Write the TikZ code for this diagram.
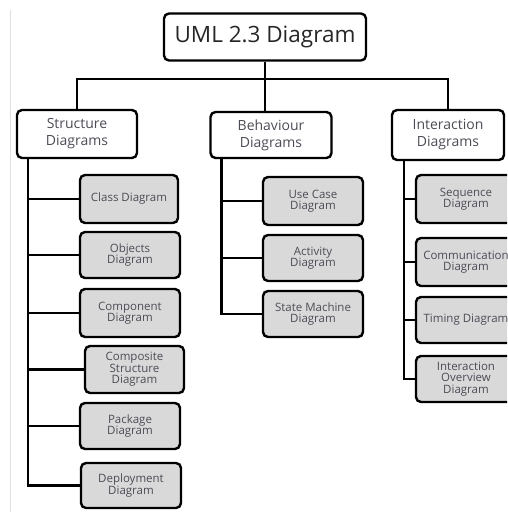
\documentclass[tikz,border=0pt]{standalone}
\usepackage{fontspec}
\setmainfont{Open Sans}
\usetikzlibrary{positioning}
\definecolor{umlGrey}{rgb}{0.85,0.85,0.85}
\definecolor{umlText}{rgb}{0.30,0.30,0.34}
\definecolor{umlEdge}{rgb}{0.88,0.88,0.88}
\tikzset{
  rootbox/.style={draw, line width=2.4pt, rounded corners=5pt, minimum width=202pt, minimum height=47pt, font=\fontsize{22.5}{24}\selectfont, text=black!85},
  groupbox/.style={draw, line width=2.4pt, rounded corners=5pt, minimum height=48pt, align=center, font=\fontsize{14}{17}\selectfont, text=umlText},
  leafbox/.style={draw, fill=umlGrey, line width=2.4pt, rounded corners=5pt, minimum width=100pt, minimum height=46pt, align=center, inner xsep=1pt, font=\fontsize{11.5}{11.5}\selectfont, text=umlText},
  link/.style={line width=2.4pt}
}

\begin{document}
\begin{tikzpicture}[x=1pt, y=-1pt]
        \useasboundingbox (0,0) rectangle (507,512);
        \clip (0,0) rectangle (507,512);
        \draw [umlEdge, line width=1pt] (10,10) -- (10,512);
        % top of the tree
        \node [rootbox] (uml) at (265,37) {UML 2.3 Diagram};
        \node [groupbox, minimum width=120pt] (structure) at (77,134) {Structure\\Diagrams};
        \node [groupbox, minimum width=121pt, minimum height=46pt] (behaviour) at (271,135) {Behaviour\\Diagrams};
        \node [groupbox, minimum width=112pt, minimum height=50pt] (interaction) at (448,135) {Interaction\\Diagrams};
        \draw [link] (uml.south) -- ++(0,17) coordinate (bus);
        \draw [link] (bus) -| (structure.north);
        \draw [link] (bus) -| (interaction.north);
        \draw [link] (bus) -- (bus |- behaviour.north);
        % structure diagrams
        \node [leafbox, minimum width=98pt, minimum height=48pt] (class) at (129,199) {Class Diagram};
        \node [leafbox] (objects) at (130,255) {Objects\\Diagram};
        \node [leafbox, minimum height=48pt] (component) at (130,313) {Component\\Diagram};
        \node [leafbox, minimum width=99pt, minimum height=47pt] (composite) at (134.5,369.5) {Composite\\Structure\\Diagram};
        \node [leafbox] (package) at (130,426) {Package\\Diagram};
        \node [leafbox, minimum height=45pt] (deployment) at (131,485.5) {Deployment\\Diagram};
        \foreach \leaf in {class, objects, component, composite, package, deployment} {
            \draw [link] ([xshift=12pt]structure.south west) |- (\leaf.west);
        };
        % behaviour diagrams
        \node [leafbox, minimum height=48pt] (usecase) at (313,201) {Use Case\\Diagram};
        \node [leafbox] (activity) at (313,258) {Activity\\Diagram};
        \node [leafbox] (statemachine) at (313,314) {State Machine\\Diagram};
        \foreach \leaf in {usecase, activity, statemachine} {
            \draw [link] ([xshift=12pt]behaviour.south west) |- (\leaf.west);
        };
        % interaction diagrams
        \node [leafbox, minimum height=48pt] (sequence) at (466,199) {Sequence\\Diagram};
        \node [leafbox, minimum height=48pt] (communication) at (466,262) {Communication\\Diagram};
        \node [leafbox] (timing) at (466,320) {Timing Diagram};
        \node [leafbox] (overview) at (466,379) {Interaction\\Overview\\Diagram};
        \foreach \leaf in {sequence, communication, timing, overview} {
            \draw [link] ([xshift=13pt]interaction.south west) |- (\leaf.west);
        };
\end{tikzpicture}
\end{document}
